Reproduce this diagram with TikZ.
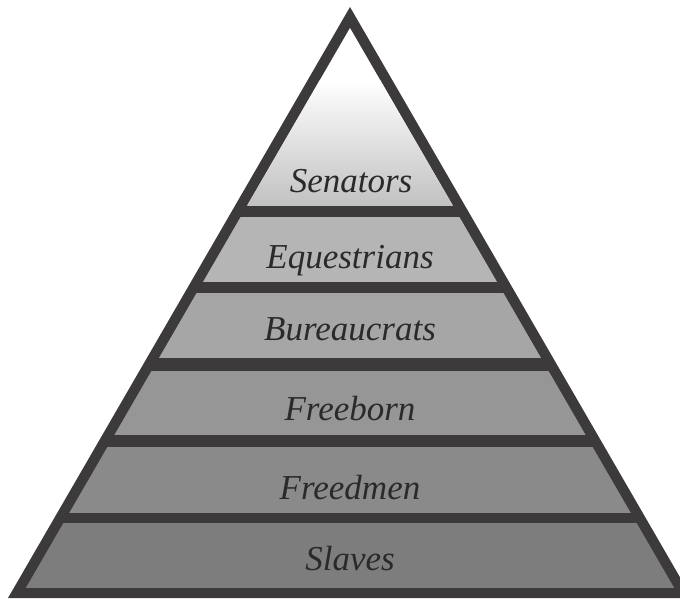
\documentclass[tikz,border=0pt]{standalone}
\usepackage{fontspec}
\newfontfamily\klassefont{Liberation Serif}
\usepackage{tikz}
\usetikzlibrary{positioning}

\definecolor{rahmen}{HTML}{3C3A3A}
\definecolor{schrift}{HTML}{2A2A2A}

\begin{document}
\begin{tikzpicture}[
            x=1pt, y=-1pt,
            schicht/.style={fill=#1, draw=none},
            klasse/.style={anchor=base, text=schrift, font=\klassefont\itshape\fontsize{35}{40}\selectfont}
        ]
        \useasboundingbox (0,0) rectangle (680,598);

        % Rahmen
        \fill[rahmen] (350,7) -- (692,598) -- (8,598) -- cycle;

        % Schichten
        \begin{scope}
            \clip (350,28) -- (680,598) -- (20,598) -- cycle;
            \fill[white] (0,0) rectangle (700,205);
            \shade[top color=white, bottom color=black!24] (0,80) rectangle (700,205);
            \fill[schicht=black!29] (0,217) rectangle (700,282);
            \fill[schicht=black!35] (0,293) rectangle (700,358);
            \fill[schicht=black!41] (0,371) rectangle (700,435);
            \fill[schicht=black!46] (0,447) rectangle (700,513);
            \fill[schicht=black!51] (0,523) rectangle (700,588);
        \end{scope}

        % Beschriftung
        \node[klasse] (senators) at (351,192) {Senators};
        \node[klasse] (equestrians) at (350,268) {Equestrians};
        \node[klasse] (bureaucrats) at (350,340) {Bureaucrats};
        \node[klasse] (freeborn) at (350,420) {Freeborn};
        \node[klasse] (freedmen) at (350,499) {Freedmen};
        \node[klasse] (slaves) at (350,570) {Slaves};

    \end{tikzpicture}
\end{document}
